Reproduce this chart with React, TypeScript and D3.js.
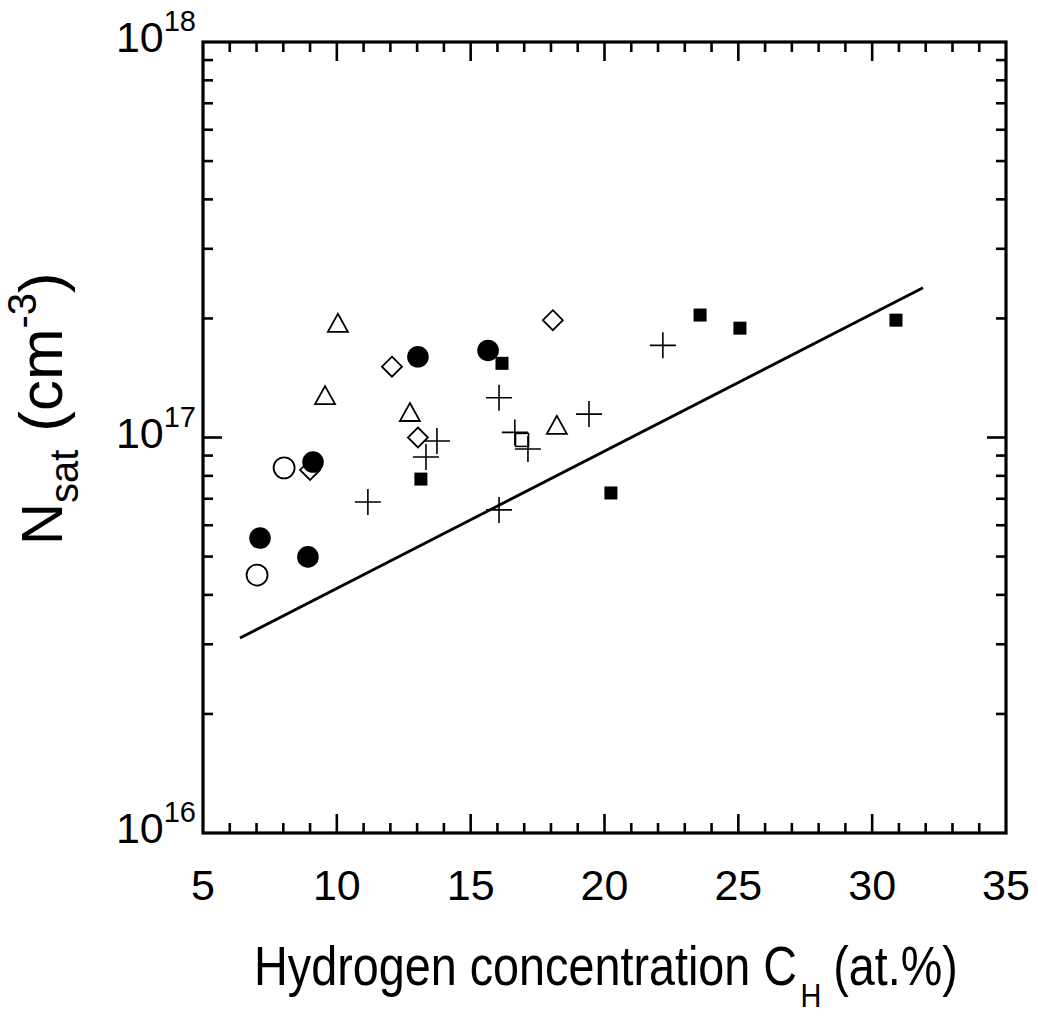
import React from "react";
import * as d3 from "d3";

// ---- data ----
const filledCircles: [number, number][] = [
  [7.13, 5.57e16], [8.92, 4.99e16], [9.11, 8.67e16], [13.03, 1.6e17], [15.65, 1.66e17],
];
const openCircles: [number, number][] = [
  [7.02, 4.49e16], [8.03, 8.38e16],
];
const triangles: [number, number][] = [
  [10.04, 1.95e17], [9.56, 1.28e17], [12.73, 1.16e17], [18.22, 1.076e17],
];
const diamonds: [number, number][] = [
  [12.06, 1.51e17], [13.03, 1.0e17], [9.0, 8.28e16], [18.07, 1.98e17],
];
const crosses: [number, number][] = [
  [13.74, 9.8e16], [13.33, 8.93e16], [11.16, 6.87e16], [16.06, 1.26e17], [16.65, 1.03e17],
  [17.14, 9.35e16], [16.06, 6.56e16], [19.42, 1.146e17], [22.18, 1.71e17],
];
const filledSquares: [number, number][] = [
  [13.14, 7.85e16], [16.17, 1.54e17], [20.24, 7.24e16], [23.57, 2.04e17], [25.06, 1.89e17], [30.89, 1.98e17],
];
const openSquares: [number, number][] = [[16.92, 9.86e16]];
const fitLine: [number, number][] = [[6.38, 3.11e16], [31.9, 2.39e17]];

const xTickLabels = [5, 10, 15, 20, 25, 30, 35];
const yDecades = [16, 17, 18];

// ---- layout ----
const W = 1038, H = 1020;
const L = 203, R = 1006, T = 42, B = 833;
const FONT = "'Liberation Sans', Arial, Helvetica, sans-serif";

export default function App() {
  const x = d3.scaleLinear().domain([5, 35]).range([L, R]);
  const y = d3.scaleLog().domain([1e16, 1e18]).range([B, T]);

  const xMinor = d3.range(6, 35);
  const yMinor: number[] = [];
  [1e16, 1e17].forEach((d) => { for (let k = 2; k <= 9; k++) yMinor.push(k * d); });

  const line = d3.line<[number, number]>().x((d) => x(d[0])).y((d) => y(d[1]));

  const tri = (cx: number, cy: number) => {
    const w = 20, h = 18;
    return `M${cx},${cy - h / 2}L${cx + w / 2},${cy + h / 2}L${cx - w / 2},${cy + h / 2}Z`;
  };
  const dia = (cx: number, cy: number) => {
    const r = 10;
    return `M${cx},${cy - r}L${cx + r},${cy}L${cx},${cy + r}L${cx - r},${cy}Z`;
  };
  const crs = (cx: number, cy: number) => {
    const r = 13;
    return `M${cx - r},${cy}H${cx + r}M${cx},${cy - r}V${cy + r}`;
  };

  return (
    <div style={{ position: "absolute", left: 0, top: 0 }}>
      <svg width={W} height={H} style={{ display: "block", background: "#fff" }}>
        <rect x={0} y={0} width={W} height={H} fill="#fff" />
        {/* ticks */}
        <g stroke="#000" strokeWidth={2.6}>
          {xMinor.map((v) => {
            const len = v % 5 === 0 ? 19 : 10;
            return (
              <g key={"xt" + v}>
                <line x1={x(v)} x2={x(v)} y1={B} y2={B - len} />
                <line x1={x(v)} x2={x(v)} y1={T} y2={T + len} />
              </g>
            );
          })}
          {yMinor.map((v) => (
            <g key={"ym" + v}>
              <line x1={L} x2={L + 10} y1={y(v)} y2={y(v)} />
              <line x1={R} x2={R - 10} y1={y(v)} y2={y(v)} />
            </g>
          ))}
          <line x1={L} x2={L + 19} y1={y(1e17)} y2={y(1e17)} />
          <line x1={R} x2={R - 19} y1={y(1e17)} y2={y(1e17)} />
        </g>
        <rect x={L} y={T} width={R - L} height={B - T} fill="none" stroke="#000" strokeWidth={3.2} />

        {/* fit line */}
        <path d={line(fitLine) || ""} fill="none" stroke="#000" strokeWidth={2.8} />

        {/* markers */}
        {diamonds.map((d, i) => (
          <path key={"d" + i} d={dia(x(d[0]), y(d[1]))} fill="#fff" stroke="#000" strokeWidth={1.8} />
        ))}
        {triangles.map((d, i) => (
          <path key={"t" + i} d={tri(x(d[0]), y(d[1]))} fill="#fff" stroke="#000" strokeWidth={1.8} />
        ))}
        {openCircles.map((d, i) => (
          <circle key={"oc" + i} cx={x(d[0])} cy={y(d[1])} r={10.5} fill="#fff" stroke="#000" strokeWidth={1.8} />
        ))}
        {filledCircles.map((d, i) => (
          <circle key={"fc" + i} cx={x(d[0])} cy={y(d[1])} r={10.8} fill="#000" />
        ))}
        {openSquares.map((d, i) => (
          <rect key={"os" + i} x={x(d[0]) - 6.5} y={y(d[1]) - 6.5} width={13} height={13} fill="none" stroke="#000" strokeWidth={1.5} />
        ))}
        {filledSquares.map((d, i) => (
          <rect key={"fs" + i} x={x(d[0]) - 6.5} y={y(d[1]) - 6.5} width={13} height={13} fill="#000" />
        ))}
        {crosses.map((d, i) => (
          <path key={"c" + i} d={crs(x(d[0]), y(d[1]))} fill="none" stroke="#000" strokeWidth={1.6} />
        ))}

        {/* x tick labels */}
        {xTickLabels.map((v) => (
          <text key={"xl" + v} x={x(v)} y={900} textAnchor="middle" fontFamily={FONT} fontSize={43}>
            {v}
          </text>
        ))}
        {/* y tick labels */}
        {yDecades.map((e) => (
          <text key={"yl" + e} x={196} y={y(Math.pow(10, e)) + 10} textAnchor="end" fontFamily={FONT} fontSize={43}>
            10
            <tspan dy={-21} fontSize={29}>{e}</tspan>
          </text>
        ))}

        {/* x axis title */}
        <g transform="translate(606,985) scale(0.85,1)">
          <text x={0} y={0} textAnchor="middle" fontFamily={FONT} fontSize={55}>
            Hydrogen concentration C
            <tspan dy={22} fontSize={34} dx={4}>H</tspan>
            <tspan dy={-22} dx={14}>(at.%)</tspan>
          </text>
        </g>

        {/* y axis title */}
        <g transform="translate(62,545) rotate(-90)">
          <text x={0} y={0} textAnchor="start" fontFamily={FONT} fontSize={58}>
            N
            <tspan dy={16} fontSize={40}>sat</tspan>
            <tspan dy={-16} dx={18} fontSize={62}>(cm</tspan>
            <tspan dy={-26} fontSize={40}>-3</tspan>
            <tspan dy={26} fontSize={62}>)</tspan>
          </text>
        </g>
      </svg>
    </div>
  );
}
